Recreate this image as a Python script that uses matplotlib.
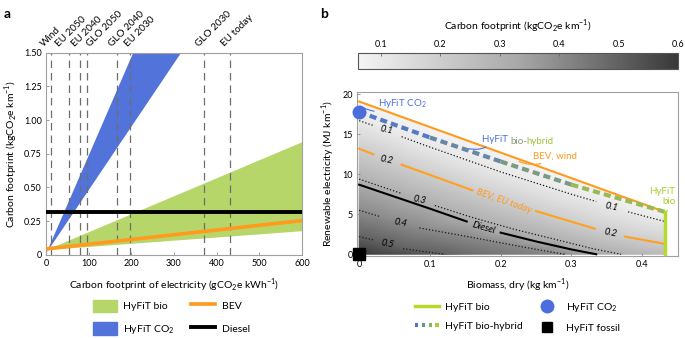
import numpy as np
import matplotlib.pyplot as plt
import matplotlib.tri as mtri
from matplotlib.colors import LinearSegmentedColormap
from matplotlib.patches import Patch
from matplotlib.lines import Line2D
from matplotlib.legend_handler import HandlerBase

plt.rcParams['font.family'] = ['Lato', 'DejaVu Sans']
plt.rcParams['mathtext.fontset'] = 'custom'
plt.rcParams['mathtext.rm'] = 'Lato'

# ---- panel a data ----
elec_x = [0, 600]
bio_low = [0.04, 0.18]
bio_high = [0.04, 0.84]
co2_y = [0.02, 1.5]
co2_left = [0, 203]
co2_right = [0, 315]
bev_y = [0.045, 0.255]
diesel_y = [0.32, 0.32]
mix_names = ['Wind', 'EU 2050', 'EU 2040', 'GLO 2050', 'GLO 2040', 'EU 2030', 'GLO 2030', 'EU today']
mix_vals = [12, 53, 79, 96, 166, 196, 371, 432]
# where each rotated name starts (spread so they don't collide)
mix_label_x = [-6, 31, 69, 104, 155, 193, 359, 418]

# ---- panel b data (biomass kg/km, electricity MJ/km) ----
wind_line = [(0, 19.1), (0.432, 5.3)]
hybrid_line = [(0, 17.8), (0.1, 14.6), (0.2, 11.6), (0.3, 8.7), (0.432, 5.3)]
bio_line = [(0.432, 0), (0.432, 5.3)]
co2_point = (0, 17.8)
fossil_point = (0, 0)
c01 = [[(0, 16.7), (0.02, 16.1)],
       [(0.06, 14.7), (0.1, 13.4), (0.2, 10.3), (0.3, 7.5), (0.335, 6.6)],
       [(0.38, 5.3), (0.432, 4.1)]]
c02 = [[(0, 13.2), (0.02, 12.5)],
       [(0.06, 11.2), (0.16, 8.0)],
       [(0.25, 5.4), (0.333, 3.2)],
       [(0.376, 2.2), (0.432, 1.3)]]
c03 = [[(0, 9.4), (0.06, 7.6)],
       [(0.107, 6.1), (0.16, 4.6), (0.22, 3.1), (0.28, 1.8), (0.33, 0.7), (0.37, 0)]]
diesel = [[(0, 8.7), (0.05, 7.2), (0.10, 5.7), (0.152, 4.1)],
          [(0.20, 2.7), (0.25, 1.6), (0.30, 0.6), (0.335, 0)]]
c04 = [[(0, 5.5), (0.03, 4.7)],
       [(0.085, 3.3), (0.16, 2.1), (0.22, 1.1), (0.27, 0.3), (0.29, 0)]]
c05 = [[(0, 2.2), (0.02, 1.8)],
       [(0.062, 0.7), (0.12, 0)]]
corner_pts = [(0, 0, 0.6), (0.432, 0, 0.27)]

fig = plt.figure(figsize=(6.85, 3.38), dpi=100)

# ================= panel a =================
ax = fig.add_axes([0.0672, 0.2456, 0.3737, 0.599])
ax.fill_between(elec_x, bio_low, bio_high, color='#b7d66a', lw=0, zorder=1)
ax.fill_betweenx(co2_y, co2_left, co2_right, color='#5273d9', lw=0, zorder=1)
for v in mix_vals:
    ax.axvline(v, color='#6e6e6e', lw=0.9, ls=(0, (6, 4)), zorder=2)
ax.plot(elec_x, bev_y, color='#ff9a1e', lw=2.6, zorder=3, solid_capstyle='butt')
ax.plot(elec_x, diesel_y, color='black', lw=2.8, zorder=3, solid_capstyle='butt')
ax.set_xlim(0, 600)
ax.set_ylim(0, 1.5)
ax.set_xticks(range(0, 601, 100))
ax.set_yticks([0, 0.25, 0.5, 0.75, 1.0, 1.25, 1.5])
ax.set_yticklabels(['0', '0.25', '0.50', '0.75', '1.00', '1.25', '1.50'])
ax.set_xlabel('Carbon footprint of electricity (gCO$_2$e kWh$^{-1}$)', fontsize=7.5, labelpad=6)
ax.set_ylabel('Carbon footprint (kgCO$_2$e km$^{-1}$)', fontsize=7.5, labelpad=3)
for name, lx in zip(mix_names, mix_label_x):
    ax.text(lx, 1.541, name, rotation=45, ha='left', va='baseline', rotation_mode='anchor',
            fontsize=7.2, clip_on=False)
for s in ax.spines.values():
    s.set_color('#a0a0a0')
    s.set_linewidth(0.8)
ax.tick_params(direction='in', length=2.5, width=0.6, color='#888888', labelsize=6.5, pad=3)

ha = [Patch(color='#b7d66a'), Patch(color='#5273d9'),
      Line2D([], [], color='#ff9a1e', lw=2.6), Line2D([], [], color='black', lw=2.8)]
fig.legend(ha, ['HyFiT bio', 'HyFiT CO$_2$', 'BEV', 'Diesel'], ncol=2, frameon=False,
           loc='center', bbox_to_anchor=(0.25, 0.06), fontsize=7.5, handlelength=2.3,
           handleheight=1.5, labelspacing=0.95, columnspacing=1.6, handletextpad=0.6)

# ================= panel b =================
bx = fig.add_axes([0.5212, 0.2435, 0.469, 0.4834])

# background field built from the read contour values
px, py, pz = [], [], []
for lev, segs in [(0.05, [wind_line]), (0.1, c01), (0.2, c02), (0.3, c03),
                  (0.32, diesel), (0.4, c04), (0.5, c05)]:
    for seg in segs:
        for x, y in seg:
            px.append(x); py.append(y); pz.append(lev)
for x, y, z in corner_pts:
    px.append(x); py.append(y); pz.append(z)
px, py, pz = np.array(px), np.array(py), np.array(pz)
tri0 = mtri.Triangulation(px * 44, py)
tri = mtri.Triangulation(px, py, tri0.triangles)
cmap = LinearSegmentedColormap.from_list('fp', ['#f4f4f4', '#a8a8a8', '#383838'])
tpc = bx.tripcolor(tri, pz, shading='gouraud', cmap=cmap, vmin=0.062, vmax=0.6, zorder=0)

def draw_segs(segs, **kw):
    for seg in segs:
        xs, ys = zip(*seg)
        bx.plot(xs, ys, **kw)

dot = dict(color='#1a1a1a', lw=0.9, ls=(0, (1, 1.6)), zorder=2)
draw_segs(c01, **dot)
draw_segs(c03, **dot)
draw_segs(c04, **dot)
draw_segs(c05, **dot)
draw_segs(c02, color='#ffa11f', lw=1.5, zorder=3)
draw_segs(diesel, color='black', lw=1.5, zorder=3)
draw_segs([wind_line], color='#ff9a1e', lw=1.5, zorder=3)

# bio-hybrid dashed line with blue -> green colour
grad = LinearSegmentedColormap.from_list('hyb', ['#4d72d8', '#71908f', '#a9cd3a'])
hx, hy = zip(*hybrid_line)
for i in range(len(hx) - 1):
    c = grad(0.5 * (hx[i] + hx[i + 1]) / hx[-1])
    bx.plot(hx[i:i + 2], hy[i:i + 2], color=c, lw=3, ls=(0, (1.7, 1.0)), zorder=4,
            solid_capstyle='butt', dash_capstyle='butt')

bxs, bys = zip(*bio_line)
bx.plot(bxs, bys, color='#b7d92b', lw=2.5, zorder=5, clip_on=False)
bx.plot(*co2_point, 'o', color='#4a6fdc', ms=9, zorder=6, clip_on=False)
bx.plot(*fossil_point, 's', color='black', ms=8, zorder=6, clip_on=False)

# labels
lab = dict(fontsize=6.8, style='italic', ha='center', va='center')
bx.text(0.039, 15.5, '0.1', rotation=-12, **lab)
bx.text(0.357, 5.9, '0.1', rotation=-12, **lab)
bx.text(0.039, 11.8, '0.2', rotation=-12, **lab)
bx.text(0.355, 2.7, '0.2', rotation=-12, **lab)
bx.text(0.086, 6.8, '0.3', rotation=-12, **lab)
bx.text(0.058, 3.95, '0.4', rotation=-12, **lab)
bx.text(0.04, 1.3, '0.5', rotation=-12, **lab)
bx.text(0.205, 6.6, 'BEV, EU today', rotation=-19, color='#ff9a1e', **lab)
bx.text(0.176, 3.35, 'Diesel', rotation=-16, color='black', **lab)

ann = dict(fontsize=7, va='center', ha='left')
bx.annotate('HyFiT CO$_2$', xy=(0.006, 18.3), xytext=(0.027, 18.9), color='#4a6fdc',
            arrowprops=dict(arrowstyle='-', color='#4a6fdc', lw=0.8,
                            connectionstyle='arc3,rad=-0.3', shrinkA=1, shrinkB=0), **ann)
t = bx.annotate('HyFiT ', xy=(0.155, 13.2), xytext=(0.173, 14.4), color='#4a6fdc',
                arrowprops=dict(arrowstyle='-', color='#4a6fdc', lw=0.8,
                                connectionstyle='arc3,rad=-0.3', shrinkA=1, shrinkB=0), **ann)
t2 = bx.annotate('bio-', xycoords=t, xy=(1, 0.5), xytext=(0, 0), textcoords='offset points',
                 color='#7f9a78', fontsize=7, va='center', ha='left')
bx.annotate('hybrid', xycoords=t2, xy=(1, 0.5), xytext=(0, 0), textcoords='offset points',
            color='#9cc43a', fontsize=7, va='center', ha='left')
bx.annotate('BEV, wind', xy=(0.226, 11.6), xytext=(0.246, 12.3), color='#ff9a1e',
            arrowprops=dict(arrowstyle='-', color='#ff9a1e', lw=0.8,
                            connectionstyle='arc3,rad=-0.3', shrinkA=1, shrinkB=0), **ann)
bx.annotate('HyFiT\nbio', xy=(0.435, 5.4), xytext=(0.447, 7.2), color='#a9cd2a',
            fontsize=7, ha='right', va='center', linespacing=1.1,
            arrowprops=dict(arrowstyle='-', color='#a9cd2a', lw=0.8,
                            connectionstyle='arc3,rad=-0.3', shrinkA=1, shrinkB=0))

bx.set_xlim(-0.003, 0.451)
bx.set_ylim(-0.18, 20.25)
bx.set_xticks([0, 0.1, 0.2, 0.3, 0.4])
bx.set_xticklabels(['0', '0.1', '0.2', '0.3', '0.4'])
bx.set_yticks([0, 5, 10, 15, 20])
bx.set_xlabel('Biomass, dry (kg km$^{-1}$)', fontsize=7.5, labelpad=6)
bx.set_ylabel('Renewable electricity (MJ km$^{-1}$)', fontsize=7.5, labelpad=4)
for s in bx.spines.values():
    s.set_color('#a0a0a0')
    s.set_linewidth(0.8)
bx.tick_params(direction='in', length=2.5, width=0.6, color='#888888', labelsize=6.5, pad=3)

# colorbar
cax = fig.add_axes([0.523, 0.796, 0.467, 0.047])
cb = fig.colorbar(tpc, cax=cax, orientation='horizontal')
cb.set_ticks([0.1, 0.2, 0.3, 0.4, 0.5, 0.6])
cb.set_ticklabels(['0.1', '0.2', '0.3', '0.4', '0.5', '0.6'])
cax.xaxis.set_ticks_position('top')
cax.xaxis.set_label_position('top')
cax.tick_params(direction='in', length=2, width=0.6, color='#666666', labelsize=6.5, pad=3)
cb.outline.set_edgecolor('#555555')
cb.outline.set_linewidth(0.8)
cb.set_label('Carbon footprint (kgCO$_2$e km$^{-1}$)', fontsize=7.5, labelpad=7)


class GradDash(HandlerBase):
    def create_artists(self, legend, orig_handle, xdescent, ydescent, width, height, fontsize, trans):
        cols = ['#4d72d8', '#6f8ea0', '#8fae6e', '#a9cd3a']
        seg = width / (2 * len(cols) - 1)
        arts = []
        for i, c in enumerate(cols):
            x0 = -xdescent + 2 * i * seg
            arts.append(Line2D([x0, x0 + seg], [height / 2 - ydescent] * 2, color=c, lw=3,
                               solid_capstyle='butt', transform=trans))
        return arts


hyb_handle = Line2D([], [])
hb = [Line2D([], [], color='#b7d92b', lw=2.5), hyb_handle,
      Line2D([], [], ls='none', marker='o', color='#4a6fdc', ms=9),
      Line2D([], [], ls='none', marker='s', color='black', ms=7)]
fig.legend(hb, ['HyFiT bio', 'HyFiT bio-hybrid', 'HyFiT CO$_2$', 'HyFiT fossil'], ncol=2,
           frameon=False, loc='center', bbox_to_anchor=(0.755, 0.063), fontsize=7.5,
           handlelength=2.3, labelspacing=0.95, columnspacing=1.2, handletextpad=0.6,
           handler_map={hyb_handle: GradDash()})

fig.text(0.006, 0.975, 'a', fontsize=10, fontweight='bold', va='top')
fig.text(0.468, 0.975, 'b', fontsize=10, fontweight='bold', va='top')

fig.savefig('out.png', dpi=100)
